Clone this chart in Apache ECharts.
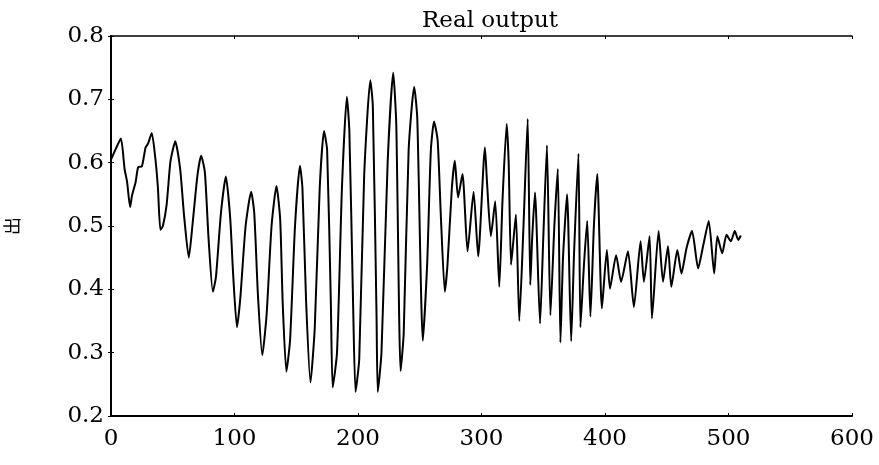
<!DOCTYPE html>
<html>
<head>
<meta charset="utf-8">
<script src="https://cdn.jsdelivr.net/npm/echarts@6/dist/echarts.min.js"></script>
<style>
  html, body { margin: 0; padding: 0; background: #fff; }
  #chart { width: 879px; height: 465px; }
</style>
</head>
<body>
<div id="chart"></div>
<script>
// sample index and output value
const sampleX = [
  0, 3, 8, 11, 13, 15.5, 17, 20, 22, 25, 28, 30, 33, 36, 38, 40, 42, 45, 48, 50,
  52, 56, 59, 63, 66, 70, 73, 76, 79, 82.5, 85, 89, 93, 96.5, 99, 102, 104.7, 109, 113.5, 116,
  119, 122.5, 126, 130, 134, 137, 139, 142, 145, 149, 153, 155, 158, 161.5, 165, 169, 172.5, 175, 178, 179.5,
  183, 187, 191, 193, 196, 198, 201, 205, 210, 212, 215, 216, 219, 224, 228.5, 231, 234.5, 237, 241, 245.5,
  248, 252.5, 256, 259, 261.6, 264.5, 267, 270.3, 272.5, 276, 278.4, 281, 284.6, 288.7, 293.6, 297.3, 302.8, 304.4, 307.6, 311.1,
  314.4, 317, 320.4, 322, 323.9, 325.5, 327.9, 330.6, 334, 337.4, 339.5, 341, 343.3, 347.4, 350, 353, 355.8, 359, 361.8, 363.9,
  366, 369.3, 372.6, 375, 378.5, 380.1, 383, 385.6, 388.2, 391, 393.7, 397.5, 401.5, 404, 409, 413, 418.6, 423.4, 428.8, 431.5,
  436.1, 438, 443.4, 447, 451, 453.7, 458.6, 461.9, 466, 470.5, 475.4, 479.4, 484, 488.4, 491, 494.9, 498.4, 501.9, 505.1, 507.9,
  510
];
const outputY = [
  0.605, 0.618, 0.638, 0.590, 0.570, 0.530, 0.548, 0.570, 0.593, 0.594, 0.624, 0.630, 0.647, 0.605, 0.560, 0.494, 0.500, 0.533, 0.600, 0.620,
  0.634, 0.590, 0.520, 0.450, 0.502, 0.580, 0.611, 0.585, 0.480, 0.396, 0.420, 0.520, 0.578, 0.513, 0.420, 0.340, 0.386, 0.500, 0.554, 0.520,
  0.390, 0.296, 0.360, 0.500, 0.563, 0.510, 0.380, 0.270, 0.320, 0.500, 0.595, 0.560, 0.380, 0.253, 0.340, 0.560, 0.650, 0.620, 0.380, 0.245,
  0.300, 0.560, 0.704, 0.650, 0.380, 0.238, 0.290, 0.580, 0.730, 0.690, 0.360, 0.238, 0.300, 0.600, 0.742, 0.660, 0.271, 0.330, 0.620, 0.720,
  0.670, 0.319, 0.440, 0.620, 0.665, 0.635, 0.520, 0.396, 0.440, 0.560, 0.603, 0.545, 0.582, 0.460, 0.554, 0.452, 0.624, 0.571, 0.484, 0.539,
  0.404, 0.540, 0.661, 0.600, 0.439, 0.470, 0.518, 0.350, 0.500, 0.669, 0.407, 0.480, 0.553, 0.346, 0.480, 0.627, 0.359, 0.500, 0.590, 0.316,
  0.450, 0.550, 0.318, 0.460, 0.614, 0.340, 0.440, 0.508, 0.357, 0.500, 0.582, 0.370, 0.462, 0.401, 0.454, 0.412, 0.460, 0.372, 0.476, 0.412,
  0.484, 0.354, 0.492, 0.412, 0.468, 0.404, 0.462, 0.425, 0.465, 0.492, 0.433, 0.468, 0.508, 0.425, 0.484, 0.457, 0.486, 0.476, 0.492, 0.478,
  0.485
];
const xTicks = [0, 100, 200, 300, 400, 500, 600];
const yTicks = [0.2, 0.3, 0.4, 0.5, 0.6, 0.7, 0.8];

const chart = echarts.init(document.getElementById('chart'));
const font = 'DejaVu Serif';
const points = sampleX.map((x, i) => [x, outputY[i]]);

// top / right frame lines with inside ticks, no labels
const frameAxis = (width) => ({
  axisLine: { show: true, lineStyle: { color: '#000', width: width } },
  axisTick: { show: true, inside: true, length: 3, lineStyle: { color: '#000' } },
  axisLabel: { show: false },
  splitLine: { show: false }
});

chart.setOption({
  animation: false,
  backgroundColor: '#fff',
  title: {
    text: 'Real output',
    left: 485,
    textAlign: 'center',
    top: 5,
    textStyle: { fontFamily: font, fontSize: 23, fontWeight: 'normal', color: '#000' }
  },
  grid: { left: 111, right: 27, top: 36, bottom: 49, outerBoundsMode: 'none' },
  xAxis: [
    {
      type: 'value', min: xTicks[0], max: xTicks[xTicks.length - 1], interval: 100,
      axisLine: { lineStyle: { color: '#000', width: 2 } },
      axisTick: { inside: true, length: 3, lineStyle: { color: '#000' } },
      axisLabel: { fontFamily: font, fontSize: 23, color: '#000', margin: 12 },
      splitLine: { show: false }
    },
    Object.assign({ type: 'value', position: 'top', min: 0, max: 600, interval: 100 }, frameAxis(1.5))
  ],
  yAxis: [
    {
      type: 'value', min: yTicks[0], max: yTicks[yTicks.length - 1], interval: 0.1,
      name: '出', nameLocation: 'middle', nameRotate: 90, nameGap: 90,
      nameTextStyle: { fontFamily: 'Noto Sans CJK SC', fontSize: 18, color: '#000' },
      axisLine: { show: true, lineStyle: { color: '#000', width: 2 } },
      axisTick: { inside: true, length: 3, lineStyle: { color: '#000' } },
      axisLabel: { fontFamily: font, fontSize: 23, color: '#000', margin: 7, formatter: v => v.toFixed(1) },
      splitLine: { show: false }
    },
    Object.assign({ type: 'value', position: 'right', min: 0.2, max: 0.8, interval: 0.1 }, frameAxis(2))
  ],
  series: [{
    type: 'line',
    data: points,
    showSymbol: false,
    smooth: 0.2,
    lineStyle: { color: '#000', width: 2 }
  }]
});
</script>
</body>
</html>
